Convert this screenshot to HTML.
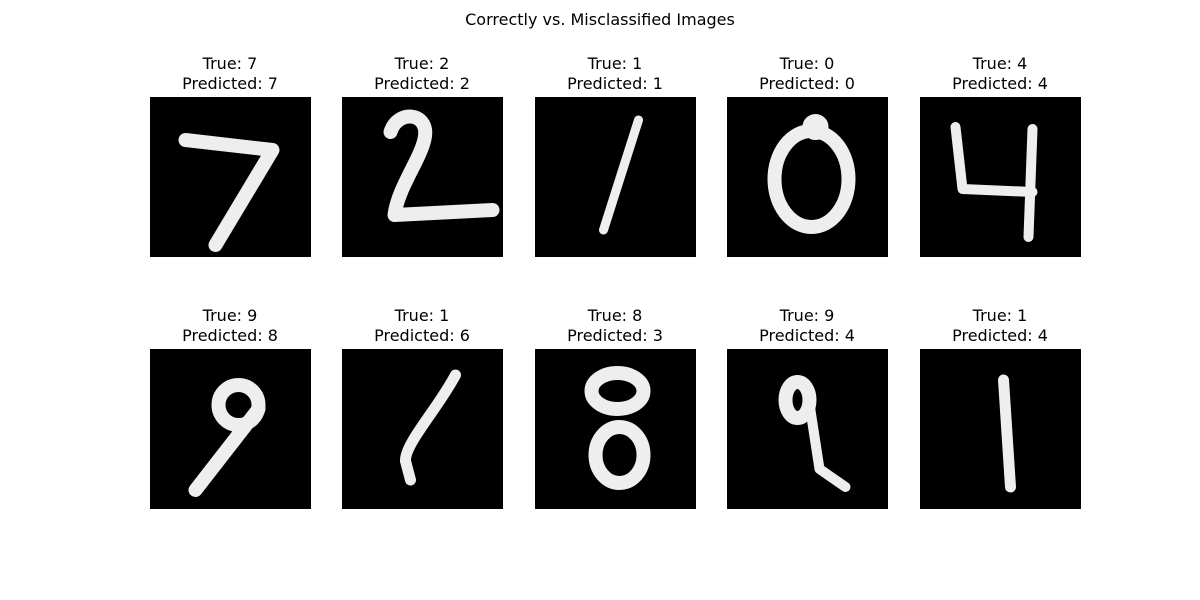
<!DOCTYPE html>
<html><head><meta charset="utf-8"><style>
body{margin:0;background:#fff;width:1200px;height:600px;overflow:hidden;position:relative;font-family:"DejaVu Sans","Liberation Sans",sans-serif;}
.t{position:absolute;width:200px;text-align:center;font-size:16px;line-height:20px;color:#000;}
svg.d{position:absolute;width:161px;height:160px;background:#000;}
</style></head><body>
<div style="position:absolute;top:10px;width:1200px;text-align:center;font-size:16px;">Correctly vs. Misclassified Images</div>
<div id="root"></div>
<script>
const trueLabels=[7,2,1,0,4,9,1,8,9,1];
const predLabels=[7,2,1,0,4,8,6,3,4,4];
const xs=[150,342,535,727,920];
const ys=[97,349];
const shapes=[
 '<path d="M35,43 L122,53 L65,148" /> ',
 '<path d="M48,35 C55,12 88,15 82,42 C78,62 55,92 52,118 L150,113" />',
 '<path d="M103,23 L68,133" stroke-width="9"/>',
 '<ellipse cx="84" cy="82" rx="37" ry="48"/><circle cx="88" cy="30" r="6"/>',
 '<path d="M35,30 L42,92 L112,95 M112,32 L108,140" stroke-width="10"/>',
 '<circle cx="88" cy="56" r="20"/><path d="M108,60 L45,141"/>',
 '<path d="M113,26 C95,60 62,95 63,112 L68,131" stroke-width="11"/>',
 '<ellipse cx="82" cy="42" rx="26" ry="18"/><ellipse cx="84" cy="106" rx="24" ry="28"/>',
 '<ellipse cx="70" cy="51" rx="12" ry="18"/><path d="M82,55 L92,120 L118,138" stroke-width="10"/>',
 '<path d="M83,31 L90,138" stroke-width="11"/>'
];
const root=document.getElementById('root');
for(let i=0;i<10;i++){
 const x=xs[i%5], y=ys[Math.floor(i/5)];
 const t=document.createElement('div');
 t.className='t';
 
 
 t.style.left=(x+80-100)+'px'; t.style.top=(y-43)+'px';
 t.innerHTML='True: '+trueLabels[i]+'<br>Predicted: '+predLabels[i];
 root.appendChild(t);
 const d=document.createElement('div');
 
 
 d.innerHTML='<svg class="d" style="left:'+x+'px;top:'+y+'px" viewBox="0 0 160 160"><g fill="none" stroke="#eee" stroke-width="14" stroke-linecap="round" stroke-linejoin="round">'+shapes[i]+'</g></svg>';
 root.appendChild(d);
}
</script>
</body></html>
